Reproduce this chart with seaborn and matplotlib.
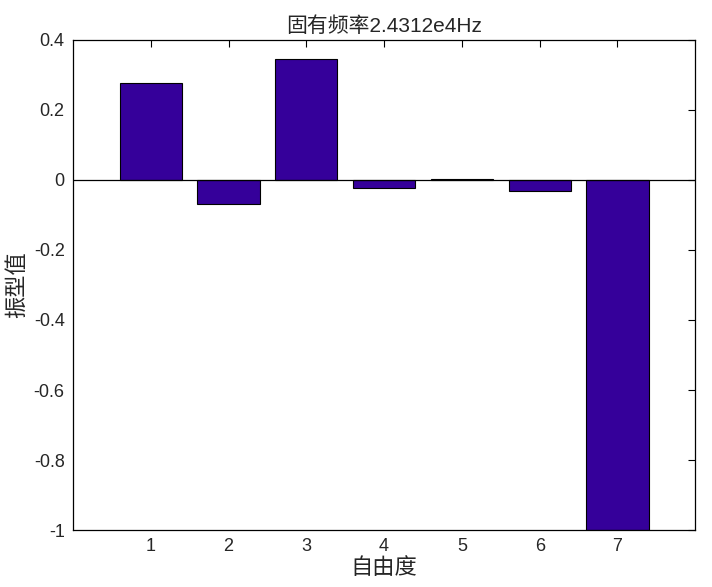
import numpy as np
import pandas as pd
import matplotlib
matplotlib.use('Agg')
import matplotlib.pyplot as plt
import seaborn as sns

# mode shape values per degree of freedom
dof = [1, 2, 3, 4, 5, 6, 7]
amplitude = [0.277, -0.069, 0.346, -0.023, 0.003, -0.031, -1.0]
title_text = '固有频率2.4312e4Hz'

sns.set_style('white')
plt.rcParams['font.family'] = ['Liberation Sans', 'Noto Sans CJK SC', 'DejaVu Sans']
cjk = ['Liberation Sans', 'Noto Sans CJK SC', 'DejaVu Sans']

df = pd.DataFrame({'dof': dof, 'amp': amplitude})

fig = plt.figure(figsize=(7.12, 5.87), dpi=100)
ax = fig.add_axes([0.1025, 0.097, 0.874, 0.835])

sns.barplot(data=df, x='dof', y='amp', native_scale=True, width=0.8,
            color='#35009A', saturation=1, edgecolor='black', linewidth=0.8, ax=ax)
ax.axhline(0, color='black', linewidth=0.9)

ax.set_xlim(0, 8)
ax.set_ylim(-1, 0.4)
ax.set_xticks(dof)
ax.set_yticks(np.arange(-1, 0.41, 0.2))
ax.set_yticklabels(['-1', '-0.8', '-0.6', '-0.4', '-0.2', '0', '0.2', '0.4'])
ax.tick_params(direction='in', length=5, width=0.8, top=True, right=True,
               labelsize=13, color='black', pad=6)
for s in ax.spines.values():
    s.set_color('black')
    s.set_linewidth(0.9)

ax.set_xlabel('自由度', family=cjk, fontsize=16, labelpad=2)
ax.set_ylabel('振型值', family=cjk, fontsize=16, labelpad=4)
ax.set_title(title_text, family=cjk, fontsize=15, pad=6)

fig.savefig('out.png', dpi=100)
